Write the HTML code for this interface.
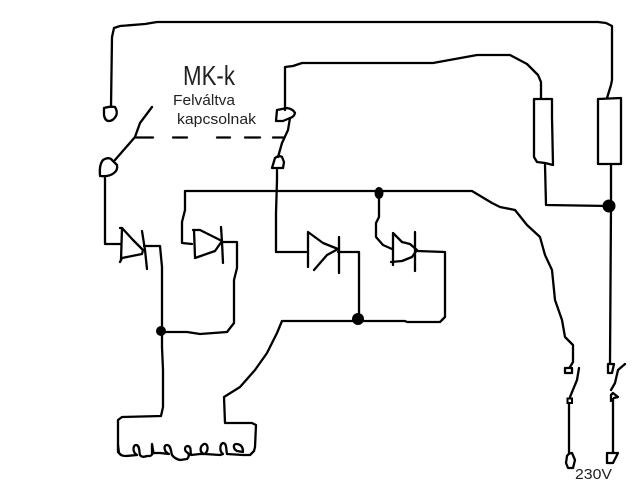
<!DOCTYPE html>
<html><head><meta charset="utf-8"><style>
html,body{margin:0;padding:0;background:#fff;width:640px;height:480px;overflow:hidden}
svg{display:block}
polyline,polygon,line,path{fill:none;stroke:#000;stroke-width:2.3;stroke-linejoin:round;stroke-linecap:round}
text{font-family:"Liberation Sans",sans-serif;fill:#222}
</style></head><body>
<svg width="640" height="480" viewBox="0 0 640 480" xmlns="http://www.w3.org/2000/svg">
<rect width="640" height="480" fill="#fff"/>
<!-- top wire -->
<polyline points="111,107 112,37 114,28 120,26 145,24 157,22 598,22 606,23 612,26 612,80 611,85 607,98"/>
<!-- second wire -->
<polyline points="285,110 285,67 293,66 302,63 433,63 477,55 510,55 527,64 538,75 541,82 541,98"/>
<!-- left resistor -->
<polygon points="534,99 552,99 552,117 553,165 545,163 537,162 534,157"/>
<polyline points="545,165 546,205 609,206"/>
<!-- right resistor -->
<polygon points="598,99 621,98 621,164 598,164"/>
<polyline points="611,164 611,206 610,363"/>
<!-- MK left -->
<path d="M104,108 Q110,106 115,107 Q118,112 116,116 Q113,121 109,121 Q105,121 104,115 Z"/>
<path d="M100,175 Q99,165 103,160 Q108,157 111,159 L117,165 Q118,170 114,173 Q109,177 100,176 Z"/>
<polyline points="115,160 135,137 140,123 152,107"/>
<polyline points="105,178 105,244 121,244"/>
<!-- MK right -->
<path d="M277,110 L287,108 Q293,109 295,113 Q294,117 290,118 L283,121 L276,121 Z"/>
<polyline points="290,118 288,130 282,143 278,157"/>
<path d="M272,168 L275,158 Q279,155 282,157 L284,162 L283,168 Z"/>
<polyline points="277,170 277,180 276,213 276,252 306,252"/>
<!-- dashes -->
<line x1="135" y1="137.500" x2="153" y2="137.500"/>
<line x1="173" y1="137.500" x2="187" y2="137.500"/>
<line x1="217" y1="137.500" x2="230" y2="137.500"/>
<line x1="245" y1="137.500" x2="260" y2="137.500"/>
<line x1="273" y1="137.500" x2="283" y2="137.500"/>
<!-- diode 1 -->
<polyline points="120,228 122,228 133,240 143,250 142,254 122,258 120,262"/>
<line x1="122" y1="228" x2="121" y2="260"/>
<polyline points="142,231 145,250 147,269"/>
<polyline points="144,246 160,246 162,267 162,330"/>
<!-- diode 2 + bus -->
<polyline points="192,244 182,243 182,222 185,210 185,191 472,191 492,203 500,207 515,210 527,225 540,237 545,255 552,270 555,300 562,320 565,337 573,345 573,362 570,367"/>
<polyline points="193,230 200,230 222,241 215,251 195,258"/>
<line x1="194" y1="230" x2="195" y2="257"/>
<polyline points="221,227 222,242 223,263"/>
<polyline points="222,242 237,242 237,268 234,280 234,323 227,332 200,334 187,332 162,332"/>
<!-- diode 3 -->
<polyline points="308,267 308,232 323,243 338,249 327,255 314,270"/>
<line x1="339" y1="237" x2="339" y2="273"/>
<polyline points="338,252 359,252 359,313"/>
<!-- diode 4 -->
<polyline points="393,265 393,233 402,242 410,244 417,250 412,257 402,261 391,262"/>
<line x1="415" y1="232" x2="415" y2="271"/>
<polyline points="379,197 379,217 376,223 376,237 383,245 392,249"/>
<polyline points="417,251 445,252 445,317 440,322 407,322 405,321 282,321 277,333 267,353 255,370 240,387 224,397 225,423 252,423 256,425 255,447 254,451 250,455 243,455"/>
<!-- dots -->
<circle cx="161" cy="331" r="5" fill="#000"/>
<ellipse cx="379" cy="193" rx="4.500" ry="6" fill="#000"/>
<circle cx="358" cy="319" r="6" fill="#000"/>
<circle cx="609" cy="206" r="6.500" fill="#000"/>
<!-- coil wire -->
<polyline points="162,332 162,347 163,370 163,407 161,416 122,417 118,420 118,452 121,455"/>
<path d="M118,445 L119,453 Q121,456 126,456 L137,455 C132,452 133,445 136,445 C140,445 139,452 140,455 Q142,458 147,456 L150,456 Q154,454 153,450 L152,444 L152,453 L160,453 L169,454 C164,452 163,445 167,445 C171,445 171,452 172,455 Q175,459 180,460 L187,459 Q190,456 188,453 C184,451 184,446 188,446 C192,447 190,453 191,455 L200,454 L204,454 C199,452 200,446 204,444 C208,443 209,450 205,454 L220,455 L223,454 C219,451 220,444 223,443 C227,443 226,450 227,454 L243,455"/>
<path d="M237,451 C233,449 233,444 236,444 C241,444 243,447 243,452 L237,451 Z"/>
<!-- right switches -->
<polygon points="565,368 572,368 572,373 565,373"/>
<polyline points="579,368 577,380 570,397"/>
<rect x="567.500" y="398.500" width="4.500" height="4.500" fill="none" stroke="#000" stroke-width="2"/>
<line x1="569" y1="403" x2="569" y2="453"/>
<path d="M567,456 Q569,453 572,453 L575,460 L573,468 L568,468 L566,463 Z"/>
<polygon points="608,364 614,364 612,373 608,373"/>
<polyline points="625,364 618,370 615,383 611,390"/>
<polyline points="611,401 611,395 613,393 618,397 614,398"/>
<line x1="613" y1="399" x2="613" y2="453"/>
<polygon points="607,453 618,453 613,463 607,463"/>
<!-- labels -->
<text x="183" y="85" font-size="28" textLength="52" lengthAdjust="spacingAndGlyphs">MK-k</text>
<text x="173" y="105" font-size="15" textLength="62" lengthAdjust="spacingAndGlyphs">Felváltva</text>
<text x="177" y="124" font-size="15" textLength="79" lengthAdjust="spacingAndGlyphs">kapcsolnak</text>
<text x="575" y="479" font-size="15" textLength="37" lengthAdjust="spacingAndGlyphs">230V</text>
</svg>
</body></html>
